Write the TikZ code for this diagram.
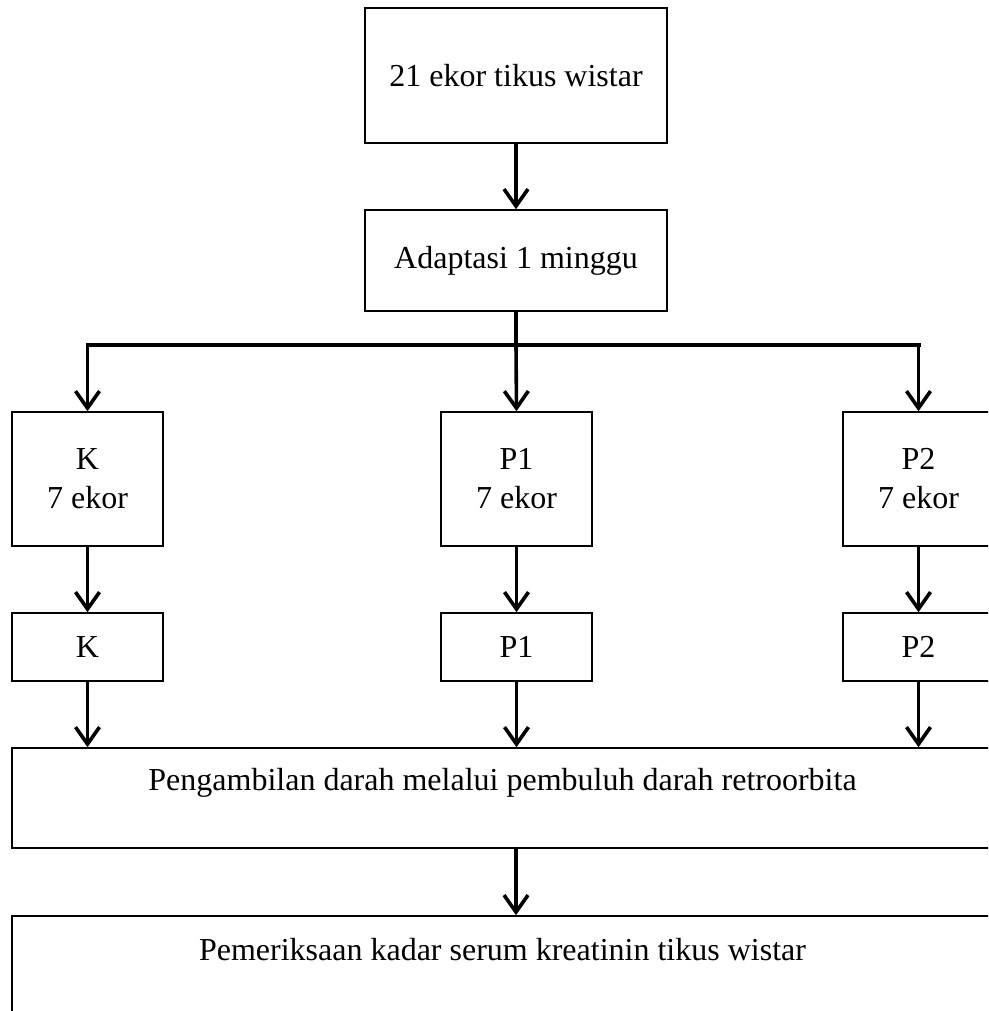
\documentclass[tikz,border=0pt]{standalone}
\usepackage{fontspec}
\setmainfont{Liberation Serif}
\usetikzlibrary{arrows.meta,calc}
\begin{document}
\begin{tikzpicture}[x=1pt,y=-1pt,
  box/.style={draw=black,line width=1.6pt,inner sep=0pt,align=center,font=\fontsize{32}{39}\selectfont},
  txt/.style={inner sep=0pt,font=\fontsize{32}{39}\selectfont},
  arr/.style={line width=3.6pt,-{Straight Barb[length=17pt,width=24pt,line width=3.6pt]}},
  conn/.style={line width=4pt}]
\useasboundingbox (0,0) rectangle (988,1011);
\clip (0,0) rectangle (988,1011);
\node[box,minimum width=302pt,minimum height=135pt] (top) at (516,75.5) {21 ekor tikus wistar};
\node[box,minimum width=302pt,minimum height=101pt] (adapt) at (516,260.5) {Adaptasi 1 minggu};
\node[box,minimum width=151pt,minimum height=134pt] (k) at (87.5,479) {K\\7 ekor};
\node[box,minimum width=151pt,minimum height=134pt] (p1) at (516.5,479) {P1\\7 ekor};
\node[box,minimum width=151pt,minimum height=134pt] (p2) at (918.5,479) {P2\\7 ekor};
\node[box,minimum width=151pt,minimum height=68pt] (ks) at (87.5,647) {K};
\node[box,minimum width=151pt,minimum height=68pt] (p1s) at (516.5,647) {P1};
\node[box,minimum width=151pt,minimum height=68pt] (p2s) at (918.5,647) {P2};
\node[box,minimum width=981pt,minimum height=100pt] (big) at (502.5,798) {};
\node[txt] (bigt) at (502.5,783) {Pengambilan darah melalui pembuluh darah retroorbita};
\node[box,minimum width=981pt,minimum height=164pt] (bot) at (502.5,998) {};
\node[txt] (bott) at (502.5,950) {Pemeriksaan kadar serum kreatinin tikus wistar};
\coordinate (jm) at (516,345);
\coordinate (jl) at (87.5,345);
\coordinate (jr) at (918.5,345);
\draw[arr] (top) -- (adapt);
\draw[line width=3.2pt] (adapt.south) -- (jm);
\draw[conn] ([xshift=-2pt]jl) -- ([xshift=2pt]jr);
\draw[arr] ([yshift=-2pt]jl) -- (k.north);
\draw[arr] (jm) -- (p1.north);
\draw[arr] ([yshift=-2pt]jr) -- (p2.north);
\draw[arr] (k) -- (ks);
\draw[arr] (p1) -- (p1s);
\draw[arr] (p2) -- (p2s);
\draw[arr] (ks.south) -- (ks.south |- big.north);
\draw[arr] (p1s.south) -- (p1s.south |- big.north);
\draw[arr] (p2s.south) -- (p2s.south |- big.north);
\draw[arr] (big.south -| adapt.south) -- (bot.north -| adapt.south);
\end{tikzpicture}
\end{document}
